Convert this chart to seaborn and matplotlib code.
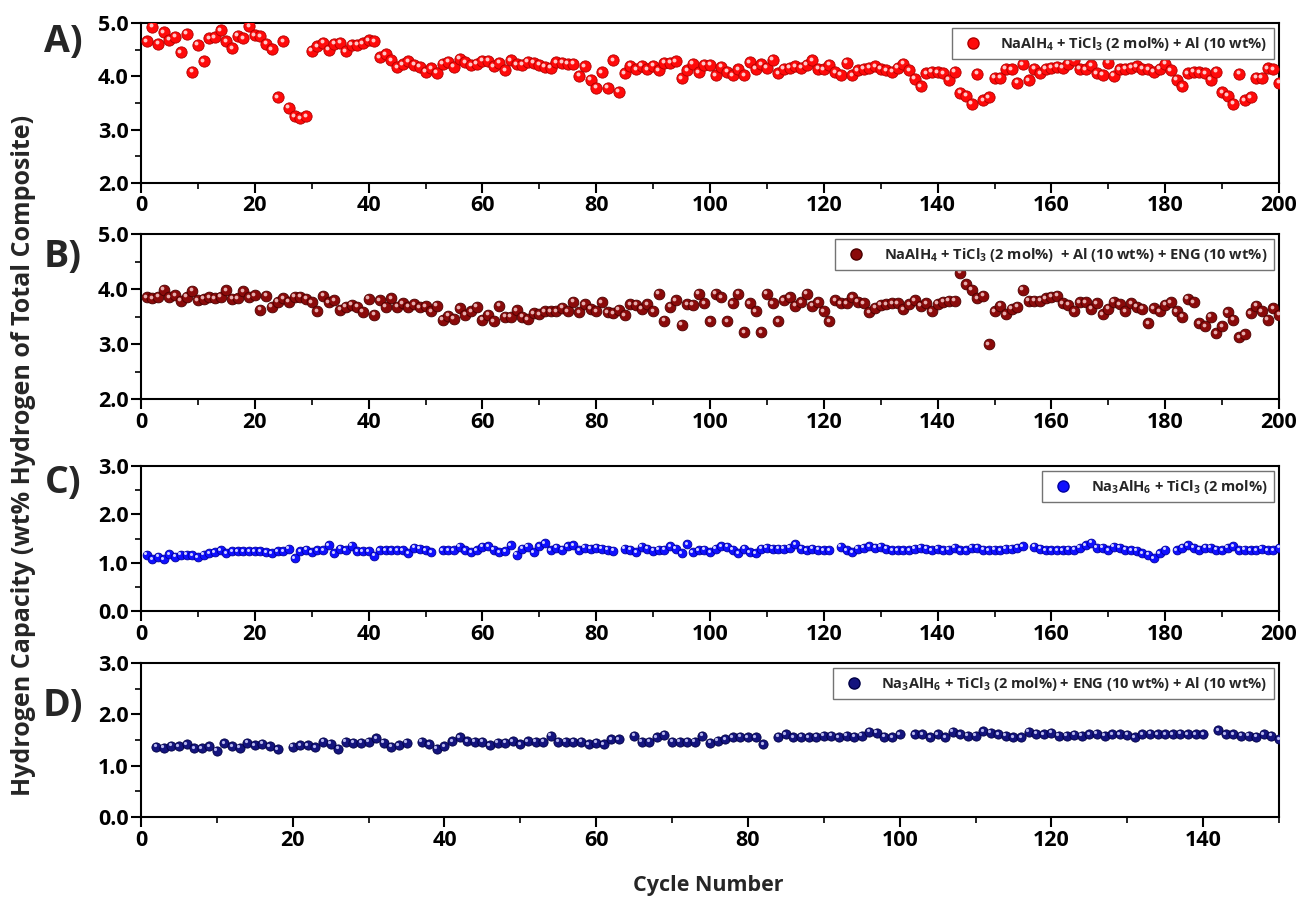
"""
Cycling stability of NaAlH4 / Na3AlH6 composites
Four stacked panels, hydrogen capacity vs cycle number
"""

import numpy as np
import pandas as pd
import matplotlib
matplotlib.use("Agg")
import matplotlib.pyplot as plt
import matplotlib.transforms as mtransforms
from matplotlib.lines import Line2D
from matplotlib.ticker import MultipleLocator, FormatStrFormatter
import seaborn as sns

# ========== DATA ==========
# A) NaAlH4 + TiCl3 + Al, cycles 1-200
a_values = [
    4.66, 4.93, 4.61, 4.83, 4.69, 4.74, 4.45, 4.80, 4.09, 4.59,
    4.28, 4.71, 4.73, 4.86, 4.66, 4.53, 4.76, 4.71, 4.94, 4.77,
    4.75, 4.61, 4.51, 3.61, 4.66, 3.41, 3.25, 3.21, 3.25, 4.48,
    4.56, 4.63, 4.50, 4.61, 4.63, 4.47, 4.59, 4.59, 4.62, 4.68,
    4.66, 4.36, 4.41, 4.30, 4.17, 4.23, 4.28, 4.22, 4.18, 4.09,
    4.15, 4.07, 4.24, 4.27, 4.18, 4.33, 4.26, 4.21, 4.24, 4.29,
    4.29, 4.19, 4.25, 4.11, 4.30, 4.23, 4.22, 4.27, 4.25, 4.22,
    4.18, 4.16, 4.26, 4.25, 4.24, 4.24, 4.01, 4.19, 3.94, 3.79,
    4.08, 3.79, 4.30, 3.71, 4.06, 4.20, 4.13, 4.20, 4.13, 4.20,
    4.11, 4.25, 4.25, 4.28, 3.96, 4.11, 4.24, 4.08, 4.22, 4.22,
    4.02, 4.18, 4.09, 4.02, 4.13, 4.02, 4.26, 4.14, 4.23, 4.16,
    4.31, 4.06, 4.14, 4.16, 4.19, 4.16, 4.22, 4.30, 4.14, 4.13,
    4.22, 4.08, 4.03, 4.25, 4.02, 4.11, 4.14, 4.16, 4.19, 4.14,
    4.11, 4.09, 4.16, 4.24, 4.11, 3.95, 3.81, 4.06, 4.09, 4.08,
    4.06, 3.94, 4.09, 3.69, 3.64, 3.49, 4.05, 3.55, 3.61, 3.97,
    3.97, 4.14, 4.13, 3.88, 4.23, 3.93, 4.14, 4.06, 4.14, 4.16,
    4.18, 4.16, 4.24, 4.30, 4.14, 4.13, 4.21, 4.06, 4.03, 4.25,
    4.01, 4.13, 4.14, 4.16, 4.19, 4.14, 4.13, 4.09, 4.14, 4.24,
    4.11, 3.94, 3.81, 4.06, 4.09, 4.08, 4.06, 3.94, 4.09, 3.70,
    3.64, 3.49, 4.05, 3.55, 3.61, 3.97, 3.97, 4.15, 4.13, 3.88,
]
a_missing = []

# B) NaAlH4 + TiCl3 + Al + ENG, cycles 1-200
b_values = [
    3.85, 3.83, 3.86, 3.99, 3.85, 3.89, 3.79, 3.86, 3.97, 3.80,
    3.82, 3.85, 3.83, 3.86, 3.98, 3.82, 3.83, 3.96, 3.85, 3.89,
    3.62, 3.88, 3.68, 3.77, 3.83, 3.77, 3.86, 3.86, 3.82, 3.76,
    3.60, 3.88, 3.76, 3.80, 3.62, 3.68, 3.71, 3.68, 3.59, 3.82,
    3.53, 3.80, 3.68, 3.83, 3.68, 3.74, 3.68, 3.72, 3.67, 3.69,
    3.60, 3.70, 3.44, 3.51, 3.46, 3.65, 3.53, 3.60, 3.68, 3.44,
    3.53, 3.41, 3.70, 3.50, 3.50, 3.61, 3.50, 3.45, 3.56, 3.54,
    3.60, 3.60, 3.60, 3.66, 3.60, 3.77, 3.58, 3.72, 3.64, 3.60,
    3.76, 3.58, 3.56, 3.62, 3.52, 3.72, 3.71, 3.64, 3.72, 3.60,
    3.91, 3.42, 3.68, 3.80, 3.35, 3.72, 3.71, 3.91, 3.74, 3.41,
    3.91, 3.85, 3.41, 3.74, 3.91, 3.21, 3.74, 3.60, 3.21, 3.91,
    3.74, 3.41, 3.80, 3.85, 3.70, 3.76, 3.91, 3.70, 3.76, 3.60,
    3.41, 3.80, 3.74, 3.74, 3.85, 3.77, 3.74, 3.58, 3.66, 3.71,
    3.72, 3.74, 3.74, 3.63, 3.72, 3.80, 3.70, 3.74, 3.60, 3.73,
    3.77, 3.79, 3.79, 4.30, 4.09, 3.99, 3.83, 3.88, 3.00, 3.60,
    3.70, 3.54, 3.64, 3.68, 3.99, 3.79, 3.79, 3.79, 3.83, 3.86,
    3.88, 3.74, 3.71, 3.60, 3.76, 3.76, 3.64, 3.74, 3.54, 3.64,
    3.77, 3.72, 3.60, 3.74, 3.68, 3.64, 3.38, 3.65, 3.60, 3.71,
    3.76, 3.60, 3.50, 3.82, 3.76, 3.38, 3.32, 3.50, 3.20, 3.32,
    3.58, 3.44, 3.12, 3.18, 3.56, 3.70, 3.60, 3.44, 3.65, 3.53,
]
b_missing = []

# C) Na3AlH6 + TiCl3, cycles 1-200 with a few cycles not recorded
c_missing = [52, 84, 122, 156, 181]
c_values = [
    1.16, 1.07, 1.12, 1.07, 1.17, 1.12, 1.16, 1.16, 1.15, 1.11,   # 1-10
    1.16, 1.19, 1.22, 1.26, 1.19, 1.24, 1.24, 1.24, 1.24, 1.24,   # 11-20
    1.24, 1.22, 1.20, 1.24, 1.24, 1.29, 1.09, 1.24, 1.27, 1.22,   # 21-30
    1.26, 1.26, 1.36, 1.20, 1.29, 1.26, 1.35, 1.24, 1.24, 1.24,   # 31-40
    1.14, 1.26, 1.26, 1.26, 1.26, 1.26, 1.19, 1.31, 1.29, 1.26,   # 41-50
    1.22,                                                         # 51
    1.26, 1.26, 1.26, 1.33, 1.26, 1.22, 1.26, 1.33, 1.34, 1.27,   # 53-62
    1.22, 1.24, 1.36, 1.16, 1.29, 1.33, 1.22, 1.34, 1.40, 1.26,   # 63-72
    1.31, 1.27, 1.34, 1.36, 1.26, 1.31, 1.29, 1.31, 1.29, 1.27,   # 73-82
    1.25,                                                         # 83
    1.29, 1.27, 1.22, 1.33, 1.29, 1.25, 1.27, 1.27, 1.34, 1.29,   # 85-94
    1.19, 1.38, 1.22, 1.26, 1.27, 1.22, 1.29,                     # 95-101
    1.34, 1.33, 1.27, 1.20, 1.29, 1.22, 1.19, 1.29, 1.31, 1.29,   # 102-111
    1.29, 1.29, 1.31, 1.38, 1.29, 1.26, 1.29, 1.27, 1.26, 1.26,   # 112-121
    1.33, 1.26, 1.22, 1.29, 1.31, 1.34, 1.31, 1.33, 1.29, 1.26,   # 123-132
    1.26, 1.26, 1.26, 1.29, 1.31, 1.29, 1.26, 1.29, 1.26, 1.27,   # 133-142
    1.31, 1.26, 1.26, 1.31, 1.31, 1.27, 1.26, 1.27, 1.26, 1.29,   # 143-152
    1.29, 1.31, 1.34,                                             # 153-155
    1.33, 1.29, 1.26, 1.26, 1.26, 1.26, 1.27, 1.27, 1.31, 1.36,   # 157-166
    1.41, 1.31, 1.31, 1.26, 1.33, 1.31, 1.27, 1.26, 1.25, 1.20,   # 167-176
    1.16, 1.09, 1.19, 1.27,                                       # 177-180
    1.26, 1.31, 1.36, 1.31, 1.27, 1.31, 1.31, 1.27, 1.26, 1.31,   # 182-191
    1.34, 1.26, 1.27, 1.26, 1.26, 1.29, 1.26, 1.26, 1.31,         # 192-200
]

# D) Na3AlH6 + TiCl3 + ENG + Al, cycles 2-150
d_missing = [19, 36, 64, 83, 101, 141]
d_values = [
    1.37, 1.35, 1.39, 1.38, 1.42, 1.34, 1.34, 1.38, 1.29, 1.44,   # 2-11
    1.38, 1.35, 1.45, 1.40, 1.43, 1.38, 1.32,                     # 12-18
    1.37, 1.40, 1.40, 1.36, 1.47, 1.43, 1.33, 1.47, 1.45, 1.45,   # 20-29
    1.47, 1.53, 1.45, 1.37, 1.40, 1.45,                           # 30-35
    1.47, 1.42, 1.33, 1.38, 1.48, 1.55, 1.48, 1.47, 1.47, 1.40,   # 37-46
    1.45, 1.45, 1.48, 1.42, 1.48, 1.47, 1.47, 1.58, 1.47, 1.47,   # 47-56
    1.47, 1.47, 1.42, 1.45, 1.42, 1.51, 1.51,                     # 57-63
    1.58, 1.47, 1.47, 1.55, 1.60, 1.47, 1.47, 1.47, 1.47, 1.58,   # 65-74
    1.45, 1.49, 1.51, 1.55, 1.56, 1.55, 1.55, 1.42,               # 75-82
    1.56, 1.61, 1.55, 1.56, 1.55, 1.56, 1.58, 1.58, 1.55, 1.58,   # 84-93
    1.56, 1.58, 1.66, 1.64, 1.56, 1.55, 1.61,                     # 94-100
    1.61, 1.61, 1.55, 1.61, 1.55, 1.66, 1.61, 1.58, 1.58, 1.67,   # 102-111
    1.64, 1.61, 1.58, 1.55, 1.55, 1.66, 1.62, 1.61, 1.64, 1.58,   # 112-121
    1.58, 1.60, 1.58, 1.61, 1.62, 1.58, 1.61, 1.61, 1.60, 1.55,   # 122-131
    1.61, 1.62, 1.61, 1.61, 1.61, 1.62, 1.61, 1.61, 1.61,         # 132-140
    1.69, 1.61, 1.61, 1.58, 1.58, 1.56, 1.61, 1.58, 1.51,         # 142-150
]

a_cycles = [c for c in range(1, 201) if c not in a_missing]
b_cycles = [c for c in range(1, 201) if c not in b_missing]
c_cycles = [c for c in range(1, 201) if c not in c_missing]
d_cycles = [c for c in range(2, 151) if c not in d_missing]

labels = [
    r"NaAlH$_4$ + TiCl$_3$ (2 mol%) + Al (10 wt%)",
    r"NaAlH$_4$ + TiCl$_3$ (2 mol%)  + Al (10 wt%) + ENG (10 wt%)",
    r"Na$_3$AlH$_6$ + TiCl$_3$ (2 mol%)",
    r"Na$_3$AlH$_6$ + TiCl$_3$ (2 mol%) + ENG (10 wt%) + Al (10 wt%)",
]
panel_tags = ["A)", "B)", "C)", "D)"]

# ========== STYLE ==========
sns.set_theme(style="ticks")
plt.rcParams['font.family'] = ['Open Sans', 'DejaVu Sans']
plt.rcParams['font.weight'] = 'bold'
plt.rcParams['mathtext.fontset'] = 'custom'
plt.rcParams['mathtext.rm'] = 'Open Sans:bold'
plt.rcParams['mathtext.it'] = 'Open Sans:bold'
plt.rcParams['mathtext.bf'] = 'Open Sans:bold'
plt.rcParams['mathtext.default'] = 'bf'

W, H = 1306, 899
fig = plt.figure(figsize=(W / 100, H / 100), dpi=100)
fig.patch.set_facecolor('white')

# pixel boxes (left, right, top, bottom) of each panel, and y of the panel tag
boxes = [
    (141, 1279, 23, 183),
    (141, 1279, 234, 399),
    (141, 1279, 466, 611),
    (141, 1279, 663, 817),
]
tag_y = [42, 257, 483, 706]

panels = [
    dict(cycles=a_cycles, values=a_values, face='#ff0a0a', edge='#b00000',
         shine='#ffc8c8', size=66, ylim=(2.0, 5.0), xmax=200),
    dict(cycles=b_cycles, values=b_values, face='#8a0a0a', edge='#4a0000',
         shine='#e8b0b0', size=60, ylim=(2.0, 5.0), xmax=200),
    dict(cycles=c_cycles, values=c_values, face='#1010ff', edge='#0000a0',
         shine='#d0d0ff', size=40, ylim=(0.0, 3.0), xmax=200),
    dict(cycles=d_cycles, values=d_values, face='#14147e', edge='#000045',
         shine='#b8b8ee', size=44, ylim=(0.0, 3.0), xmax=150),
]

for p, box, label, tag, ty in zip(panels, boxes, labels, panel_tags, tag_y):
    l, r, t, b = box
    ax = fig.add_axes([l / W, 1 - b / H, (r - l) / W, (b - t) / H])
    ax.set_facecolor('white')

    df = pd.DataFrame({'cycle': p['cycles'], 'capacity': p['values']})
    sns.scatterplot(data=df, x='cycle', y='capacity', ax=ax, color=p['face'],
                    edgecolor=p['edge'], linewidth=0.6, s=p['size'],
                    legend=False, zorder=3)
    # little glossy highlight on each sphere
    shift = mtransforms.offset_copy(ax.transData, fig=fig, x=-1.5, y=1.5, units='dots')
    ax.scatter(df['cycle'], df['capacity'], s=p['size'] * 0.12, color=p['shine'],
               linewidths=0, transform=shift, zorder=4)

    ax.set_xlim(0, p['xmax'])
    ax.set_ylim(*p['ylim'])
    ax.xaxis.set_major_locator(MultipleLocator(20))
    ax.xaxis.set_minor_locator(MultipleLocator(10))
    ax.yaxis.set_major_locator(MultipleLocator(1.0))
    ax.yaxis.set_minor_locator(MultipleLocator(0.5))
    ax.yaxis.set_major_formatter(FormatStrFormatter('%.1f'))
    ax.set(xlabel='', ylabel='')

    ax.tick_params(which='major', direction='out', length=7, width=1.5,
                   labelsize=15.5, pad=2, color='black', labelcolor='black')
    ax.tick_params(which='minor', direction='out', length=4, width=1.2, color='black')
    for lab in ax.get_xticklabels() + ax.get_yticklabels():
        lab.set_fontweight('bold')
    for sp in ax.spines.values():
        sp.set_visible(True)
        sp.set_linewidth(1.5)
        sp.set_color('black')

    handle = Line2D([], [], marker='o', ls='none', markersize=8,
                    markerfacecolor=p['face'], markeredgecolor=p['edge'])
    leg = ax.legend(handles=[handle], labels=[label], loc='upper right',
                    frameon=True, fancybox=False, framealpha=1, edgecolor='0.45',
                    borderaxespad=0.35, handletextpad=0.9, borderpad=0.45,
                    prop={'size': 10.5, 'weight': 'bold'})
    leg.get_frame().set_linewidth(1.0)

    fig.text(63 / W, 1 - ty / H, tag, fontsize=27, fontweight='bold',
             ha='center', va='center')

fig.text(24 / W, 1 - 455 / H, 'Hydrogen Capacity (wt% Hydrogen of Total Composite)',
         rotation=90, fontsize=18, fontweight='bold', ha='center', va='center')
fig.text(708 / W, 1 - 885 / H, 'Cycle Number', fontsize=15.5, fontweight='bold',
         ha='center', va='center')

fig.savefig('out.png', dpi=100, facecolor='white')
print("saved out.png")
